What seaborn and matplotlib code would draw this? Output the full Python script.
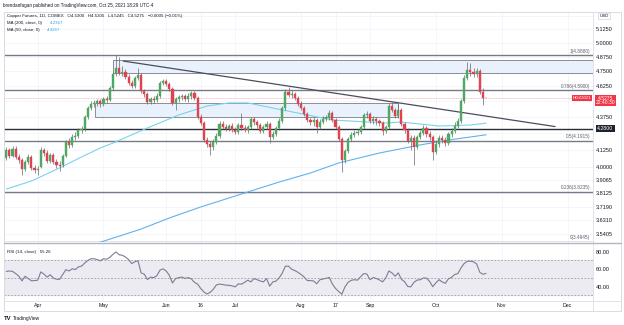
import numpy as np
import pandas as pd
import matplotlib
matplotlib.use("Agg")
import matplotlib.pyplot as plt
import seaborn as sns
from matplotlib.patches import Rectangle
from matplotlib.ticker import FixedLocator, NullLocator, FuncFormatter
from matplotlib.transforms import blended_transform_factory

sns.set_style("white")
plt.rcParams['font.family'] = ['Liberation Sans', 'DejaVu Sans']

# ---------------- data ----------------
opens = [4.063, 4.122, 4.078, 4.130, 4.071, 4.049, 3.983, 4.034, 4.071, 3.991,
         3.976, 3.998, 4.122, 4.100, 4.041, 4.085, 4.034, 4.012, 4.012, 4.078,
         4.182, 4.160, 4.220, 4.227, 4.273, 4.281, 4.375, 4.446, 4.478, 4.487,
         4.503, 4.478, 4.519, 4.511, 4.609, 4.727, 4.778, 4.736, 4.744, 4.702,
         4.651, 4.626, 4.693, 4.719, 4.585, 4.560, 4.495, 4.519, 4.511, 4.544,
         4.651, 4.668, 4.643, 4.601, 4.487, 4.519, 4.535, 4.544, 4.519, 4.544,
         4.568, 4.527, 4.375, 4.328, 4.197, 4.167, 4.145, 4.182, 4.227, 4.320,
         4.297, 4.281, 4.304, 4.273, 4.258, 4.312, 4.289, 4.273, 4.297, 4.359,
         4.335, 4.312, 4.266, 4.297, 4.320, 4.220, 4.243, 4.289, 4.343, 4.446,
         4.576, 4.552, 4.560, 4.527, 4.478, 4.446, 4.398, 4.351, 4.335, 4.351,
         4.297, 4.335, 4.359, 4.367, 4.406, 4.351, 4.297, 4.205, 4.049, 4.115,
         4.205, 4.235, 4.250, 4.258, 4.297, 4.391, 4.398, 4.343, 4.359, 4.343,
         4.328, 4.266, 4.297, 4.462, 4.430, 4.383, 4.430, 4.320, 4.273, 4.190,
         4.212, 4.145, 4.220, 4.250, 4.289, 4.243, 4.220, 4.107, 4.167, 4.212,
         4.197, 4.174, 4.243, 4.266, 4.304, 4.343, 4.503, 4.693, 4.761, 4.744,
         4.727, 4.753, 4.576, 4.530]
closes = [4.122, 4.078, 4.130, 4.071, 4.049, 3.983, 4.034, 4.071, 3.991, 3.976,
          3.983, 4.122, 4.100, 4.041, 4.085, 4.034, 4.012, 4.005, 4.078, 4.182,
          4.160, 4.220, 4.227, 4.273, 4.281, 4.375, 4.446, 4.478, 4.487, 4.503,
          4.478, 4.519, 4.511, 4.609, 4.727, 4.778, 4.736, 4.744, 4.702, 4.651,
          4.626, 4.693, 4.719, 4.585, 4.560, 4.495, 4.519, 4.511, 4.544, 4.651,
          4.668, 4.643, 4.601, 4.487, 4.519, 4.535, 4.544, 4.519, 4.544, 4.568,
          4.527, 4.375, 4.328, 4.197, 4.167, 4.145, 4.182, 4.227, 4.320, 4.297,
          4.281, 4.304, 4.273, 4.258, 4.312, 4.289, 4.273, 4.297, 4.359, 4.335,
          4.312, 4.266, 4.297, 4.320, 4.220, 4.243, 4.289, 4.343, 4.446, 4.576,
          4.552, 4.560, 4.527, 4.478, 4.446, 4.398, 4.351, 4.335, 4.351, 4.297,
          4.335, 4.359, 4.367, 4.406, 4.351, 4.297, 4.205, 4.049, 4.115, 4.205,
          4.235, 4.250, 4.258, 4.297, 4.391, 4.398, 4.343, 4.359, 4.343, 4.328,
          4.266, 4.297, 4.462, 4.430, 4.383, 4.430, 4.320, 4.273, 4.190, 4.212,
          4.145, 4.220, 4.250, 4.289, 4.243, 4.220, 4.107, 4.167, 4.212, 4.197,
          4.174, 4.243, 4.266, 4.304, 4.343, 4.503, 4.693, 4.761, 4.744, 4.727,
          4.753, 4.576, 4.527, 4.5275]
highs = [4.145, 4.137, 4.152, 4.152, 4.093, 4.063, 4.049, 4.093, 4.085, 4.012,
         4.005, 4.145, 4.137, 4.122, 4.100, 4.100, 4.056, 4.041, 4.093, 4.197,
         4.212, 4.243, 4.258, 4.289, 4.304, 4.391, 4.462, 4.503, 4.511, 4.519,
         4.519, 4.535, 4.544, 4.626, 4.744, 4.888, 4.874, 4.796, 4.770, 4.727,
         4.676, 4.710, 4.778, 4.736, 4.601, 4.576, 4.535, 4.544, 4.568, 4.668,
         4.685, 4.685, 4.659, 4.618, 4.535, 4.552, 4.560, 4.560, 4.568, 4.585,
         4.585, 4.544, 4.398, 4.343, 4.220, 4.190, 4.205, 4.250, 4.343, 4.343,
         4.320, 4.320, 4.328, 4.297, 4.328, 4.406, 4.312, 4.312, 4.375, 4.375,
         4.351, 4.328, 4.312, 4.343, 4.335, 4.266, 4.304, 4.367, 4.462, 4.601,
         4.618, 4.593, 4.576, 4.544, 4.503, 4.462, 4.414, 4.367, 4.375, 4.367,
         4.359, 4.383, 4.391, 4.430, 4.422, 4.367, 4.312, 4.220, 4.130, 4.220,
         4.258, 4.273, 4.281, 4.312, 4.406, 4.422, 4.414, 4.383, 4.375, 4.359,
         4.343, 4.312, 4.487, 4.495, 4.446, 4.478, 4.446, 4.335, 4.289, 4.235,
         4.235, 4.235, 4.273, 4.312, 4.304, 4.266, 4.235, 4.197, 4.235, 4.235,
         4.220, 4.258, 4.289, 4.335, 4.367, 4.519, 4.719, 4.830, 4.822, 4.778,
         4.778, 4.770, 4.609, 4.5305]
lows = [4.049, 4.063, 4.071, 4.056, 4.027, 3.941, 3.969, 4.020, 3.976, 3.955,
        3.941, 3.991, 4.078, 4.027, 4.027, 4.020, 3.991, 3.969, 3.998, 4.071,
        4.137, 4.145, 4.197, 4.212, 4.250, 4.266, 4.359, 4.430, 4.454, 4.462,
        4.454, 4.462, 4.487, 4.503, 4.593, 4.710, 4.719, 4.710, 4.685, 4.634,
        4.609, 4.609, 4.676, 4.568, 4.535, 4.478, 4.478, 4.487, 4.495, 4.527,
        4.634, 4.626, 4.585, 4.470, 4.430, 4.495, 4.511, 4.503, 4.495, 4.519,
        4.511, 4.359, 4.312, 4.182, 4.145, 4.085, 4.122, 4.167, 4.212, 4.281,
        4.266, 4.266, 4.258, 4.243, 4.243, 4.273, 4.258, 4.250, 4.281, 4.312,
        4.289, 4.250, 4.250, 4.281, 4.174, 4.205, 4.227, 4.273, 4.328, 4.430,
        4.535, 4.527, 4.511, 4.462, 4.430, 4.383, 4.335, 4.312, 4.304, 4.250,
        4.281, 4.320, 4.343, 4.351, 4.335, 4.281, 4.190, 3.962, 4.027, 4.100,
        4.190, 4.220, 4.235, 4.243, 4.281, 4.367, 4.328, 4.320, 4.312, 4.304,
        4.235, 4.250, 4.281, 4.414, 4.367, 4.367, 4.304, 4.250, 4.174, 4.122,
        4.012, 4.130, 4.205, 4.235, 4.220, 4.197, 4.049, 4.093, 4.145, 4.174,
        4.152, 4.160, 4.220, 4.250, 4.289, 4.328, 4.487, 4.676, 4.710, 4.702,
        4.702, 4.560, 4.470, 4.5245]
rsi = [57.5, 58, 57.5, 55, 52, 46.6, 52, 49.3, 46.8, 47,
       47.4, 56.9, 54.5, 51, 53.7, 50, 48.5, 48.5, 54, 59.5,
       58, 60.5, 59.6, 62.7, 63.5, 67, 70, 72, 72, 71,
       69.6, 72, 71.5, 73.5, 77, 79.8, 76.5, 76, 74, 71,
       66.5, 68.5, 69.6, 55.8, 54.3, 48.2, 51, 50.4, 52.5, 58.9,
       60.5, 58, 53, 44.3, 49.3, 50.4, 51, 49.5, 50.4, 49,
       45, 43, 38, 34, 31.7, 33.5, 37, 42, 43, 42.5,
       41.8, 41.6, 41, 39.8, 43.2, 43, 45, 47.5, 45.5, 49.3,
       48, 46.5, 45.5, 49.3, 40.6, 45.5, 46.4, 50, 55.5, 63.5,
       63.5, 60, 58.5, 56.5, 54, 51, 47, 47, 46.6, 43.4,
       48, 48.8, 49.6, 50.6, 43, 38, 34.5, 31.4, 39.8, 45,
       47.3, 48, 47.5, 51.5, 55, 54.5, 48, 50.5, 49.4, 47.8,
       45.5, 50, 58, 55.8, 52, 55.8, 48.5, 45.8, 40.3, 39.8,
       45, 47.6, 48, 50, 49.8, 46, 40, 44.5, 48, 45.5,
       43.8, 49, 50.8, 54, 55, 61.5, 66.5, 69, 69.2, 68.5,
       66, 56.5, 54.2, 55.26]

ma50_bar = [0, 8, 17, 24, 30, 34, 45, 55, 64, 71, 77, 85, 93, 104, 121, 126, 138, 148, 153]
ma50_val = [3.842, 3.898, 3.991, 4.071, 4.137, 4.174, 4.289, 4.391, 4.462, 4.487,
            4.487, 4.446, 4.406, 4.351, 4.328, 4.335, 4.304, 4.312, 4.3267]
ma200_bar = [29, 43, 52, 62, 75, 87, 97, 106, 119, 132, 141, 153]
ma200_val = [3.485, 3.575, 3.647, 3.720, 3.808, 3.891, 3.955, 4.027, 4.100, 4.160, 4.197, 4.2367]

fib_levels = [4.8880, 4.5900, 4.1915, 3.8235, 3.4945]
fib_labels = ["1(4.8880)", "0.786(4.5900)", "0.5(4.1915)", "0.236(3.8235)", "0(3.4945)"]
support_level = 4.2800
last_price = 4.5275

box_upper = (4.740, 4.850)
box_lower = (4.375, 4.487)
trend_start = ("2021-05-11", 4.839)
trend_end_bar = 175
trend_end_price = 4.300

price_ticks = [5.1250, 5.0000, 4.8750, 4.7500, 4.6250, 4.3750, 4.1250,
               4.0000, 3.9065, 3.8125, 3.7190, 3.6310, 3.5405]
price_grid = price_ticks + [5.2500, 4.5000, 4.2500]
rsi_ticks = [80, 60, 40]

tick_dates = ['2021-04-01', '2021-05-03', '2021-06-01', '2021-06-16', '2021-07-01',
              '2021-08-02', '2021-08-17', '2021-09-01', '2021-10-01', '2021-11-01', '2021-12-01']
tick_labels = ["Apr", "May", "Jun", "16", "Jul", "Aug", "17", "Sep", "Oct", "Nov", "Dec"]

holidays = pd.to_datetime(['2021-04-02', '2021-05-31', '2021-07-05', '2021-09-06', '2021-11-25'])
cal = pd.bdate_range('2021-03-18', '2021-12-31')
cal = cal[~cal.isin(holidays)]
n = len(closes)
dates = cal[:n]

df = pd.DataFrame({'date': dates, 'bar': np.arange(n), 'open': opens, 'high': highs,
                   'low': lows, 'close': closes, 'rsi': rsi})

# ---------------- figure ----------------
W, H = 624, 325
fig = plt.figure(figsize=(W / 100, H / 100), dpi=100, facecolor='white')

def fx(x):
    return x / W

def fy(y):
    return 1 - y / H

ax = fig.add_axes([fx(4), fy(242), (593 - 4) / W, (242 - 12) / H])
axr = fig.add_axes([fx(4), fy(300), (593 - 4) / W, (300 - 243) / H])

xlim = (-0.73, 187.1)
up_c, dn_c, wick_c = '#4fa862', '#e0434f', '#66676d'

ax.set_yscale('log')
ax.set_xlim(*xlim)
ax.set_ylim(3.4925, 5.286)

tick_pos = [int(np.searchsorted(cal, pd.Timestamp(d))) for d in tick_dates]

# grids
for t in price_grid:
    ax.axhline(t, color='#f0f3fa', lw=0.5, zorder=0)
for p in tick_pos:
    ax.axvline(p, color='#f0f3fa', lw=0.5, zorder=0)
    axr.axvline(p, color='#f0f3fa', lw=0.5, zorder=0)

# boxes
ax.add_patch(Rectangle((34.0, box_upper[0]), 200, box_upper[1] - box_upper[0],
                       facecolor='#e8f1fc', edgecolor='#8a8d96', lw=0.7, zorder=1))
ax.add_patch(Rectangle((28.3, box_lower[0]), 124.9 - 28.3, box_lower[1] - box_lower[0],
                       facecolor='#e8f1fc', edgecolor='#8a8d96', lw=0.7, zorder=1))

# horizontal levels
tr = blended_transform_factory(ax.transAxes, ax.transData)
for lv, lb in zip(fib_levels, fib_labels):
    ax.axhline(lv, color='#787b86', lw=1.0, zorder=2)
    ax.text(0.995, lv * 1.0025, lb, transform=tr, ha='right', va='bottom',
            fontsize=3.4, color='#5d606b', zorder=6)
ax.axhline(support_level, color='#2a2e39', lw=1.0, zorder=2)
ax.axhline(last_price, color='#f7a8ae', lw=0.6, ls=(0, (1, 1)), zorder=2)

# trendline
t0 = int(np.searchsorted(cal, pd.Timestamp(trend_start[0])))
ax.plot([t0 + 0.3, trend_end_bar], [trend_start[1], trend_end_price],
        color='#4a4e5c', lw=0.9, zorder=3)

# moving averages (seaborn)
sns.lineplot(x=ma200_bar, y=ma200_val, ax=ax, color='#5fb4ec', lw=0.8, zorder=3)
sns.lineplot(x=ma50_bar, y=ma50_val, ax=ax, color='#7ad3ee', lw=0.8, zorder=3)

# candles
o = df['open'].values
c = df['close'].values
cols = np.where(c >= o, up_c, dn_c)
ax.vlines(df['bar'], df['low'], df['high'], color=wick_c, lw=0.5, zorder=4)
ax.bar(df['bar'], np.abs(c - o), bottom=np.minimum(o, c), width=0.68,
       color=cols, edgecolor=cols, lw=0.3, zorder=5)

ax.set_xlim(*xlim)
ax.set_ylim(3.4925, 5.286)
ax.set_xlabel('')
ax.set_ylabel('')
ax.set_xticks([])
ax.yaxis.tick_right()
ax.yaxis.set_major_locator(FixedLocator(price_ticks))
ax.yaxis.set_minor_locator(NullLocator())
ax.yaxis.set_major_formatter(FuncFormatter(lambda v, p: f"{v:.4f}"))
ax.tick_params(axis='y', length=0, pad=2.0, labelsize=4.0, labelcolor='#131722')
for s in ax.spines.values():
    s.set_visible(False)

# RSI panel
axr.set_xlim(*xlim)
axr.set_ylim(24.8, 90)
axr.axhspan(30, 70, color='#ebebf1', zorder=0)
for lv in (70, 50, 30):
    axr.axhline(lv, color='#9a9ca6', lw=0.6, ls=(0, (2, 2)), zorder=1)
sns.lineplot(data=df, x='bar', y='rsi', ax=axr, color='#7b7d95', lw=0.8, zorder=3)
axr.set_xlabel('')
axr.set_ylabel('')
axr.yaxis.tick_right()
axr.set_yticks(rsi_ticks)
axr.set_yticklabels([f"{v:.2f}" for v in rsi_ticks])
axr.set_xticks(tick_pos)
axr.set_xticklabels(tick_labels)
axr.tick_params(axis='y', length=0, pad=2.0, labelsize=4.0, labelcolor='#131722')
axr.tick_params(axis='x', length=0, pad=2.2, labelsize=3.8, labelcolor='#131722')
for s in axr.spines.values():
    s.set_visible(False)

# frame lines
def hline(y, x0, x1, color, lw):
    fig.add_artist(plt.Line2D([fx(x0), fx(x1)], [fy(y), fy(y)], color=color, lw=lw,
                              transform=fig.transFigure))

def vline(x, y0, y1, color, lw):
    fig.add_artist(plt.Line2D([fx(x), fx(x)], [fy(y0), fy(y1)], color=color, lw=lw,
                              transform=fig.transFigure))

fig.add_artist(Rectangle((fx(3.5), fy(311)), (620.5 - 3.5) / W, (311 - 11.5) / H,
                         transform=fig.transFigure, fill=False, edgecolor='#d8dbe2', lw=0.7))
vline(593, 11.5, 311, '#e0e3eb', 0.7)
hline(242.6, 3.5, 620.5, '#b2b5be', 1.0)
hline(300.5, 3.5, 620.5, '#e0e3eb', 0.7)

# texts
fig.text(fx(3), fy(5.6), "brendanfagan published on TradingView.com, Oct 25, 2021 18:29 UTC-4",
         fontsize=3.3, color='#131722', va='center', ha='left')
fig.text(fx(7), fy(16.2), "Copper Futures, 1D, COMEX   O4.5300   H4.5305   L4.5245   C4.5275   \u22120.0005 (\u22120.01%)",
         fontsize=3.2, color='#131722', va='center', ha='left')
fig.text(fx(7), fy(23.4), "MA (200, close, 0)", fontsize=3.2, color='#131722', va='center', ha='left')
fig.text(fx(50), fy(23.4), "4.2367", fontsize=3.2, color='#2f9de8', va='center', ha='left')
fig.text(fx(7), fy(30.4), "MA (50, close, 0)", fontsize=3.2, color='#131722', va='center', ha='left')
fig.text(fx(47), fy(30.4), "4.3267", fontsize=3.2, color='#2f9de8', va='center', ha='left')
fig.text(fx(7), fy(252.3), "RSI (14, close)   55.26", fontsize=3.2, color='#131722', va='center', ha='left')

fig.text(fx(604), fy(16), "USD", fontsize=3.2, color='#131722', va='center', ha='center',
         bbox=dict(boxstyle='square,pad=0.25', fc='white', ec='#d1d4dc', lw=0.5))
fig.text(fx(582), fy(98.2), "HGZ2021", fontsize=3.2, color='white', va='center', ha='center',
         bbox=dict(boxstyle='square,pad=0.2', fc='#f23645', ec='none'))
fig.text(fx(605.5), fy(100.5), "4.5275\n22:40:30", fontsize=3.6, color='white', va='center', ha='center',
         linespacing=0.95, bbox=dict(boxstyle='square,pad=0.2', fc='#f23645', ec='none'))
fig.text(fx(605.5), fy(128.8), "4.2800", fontsize=3.8, color='white', va='center', ha='center',
         bbox=dict(boxstyle='square,pad=0.22', fc='#1e222d', ec='none'))

fig.text(fx(4), fy(318.5), "TV", fontsize=4.2, weight='bold', color='#131722', va='center', ha='left')
fig.text(fx(13), fy(318.5), "TradingView", fontsize=3.5, color='#131722', va='center', ha='left')

fig.savefig("out.png", dpi=100, facecolor='white')
